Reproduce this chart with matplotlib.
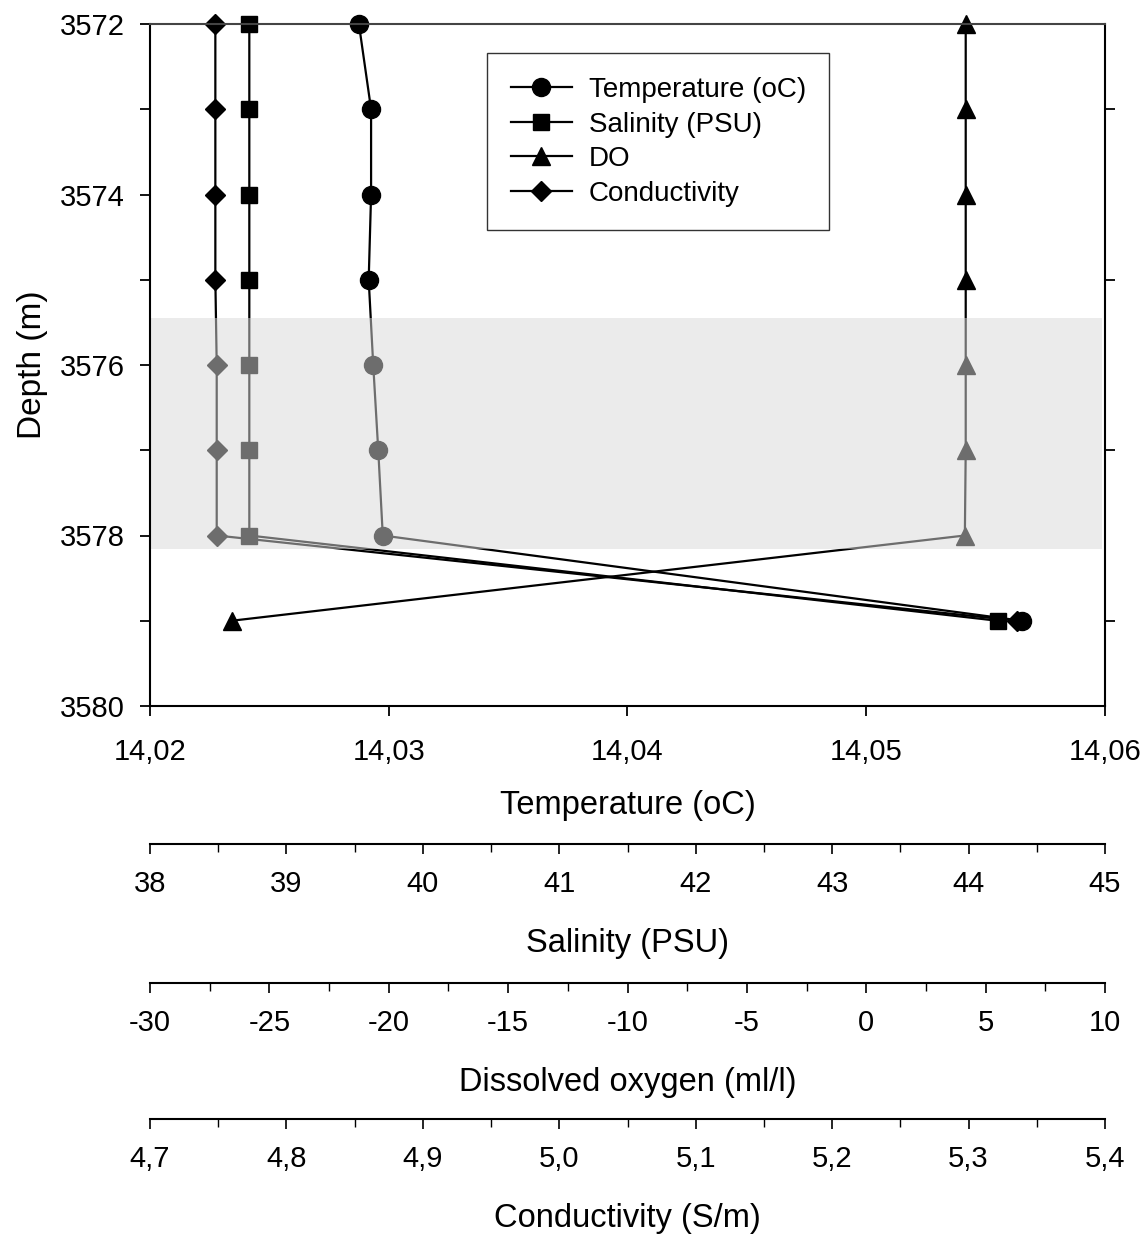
import numpy as np
import matplotlib
matplotlib.use("Agg")
import matplotlib.pyplot as plt
from matplotlib.ticker import MultipleLocator, FuncFormatter

plt.rcParams["font.family"] = ["Liberation Sans", "DejaVu Sans"]

# depth profile values
depth = [3572, 3573, 3574, 3575, 3576, 3577, 3578, 3579]
temperature = [14.02875, 14.02926, 14.02926, 14.02916, 14.02935, 14.02956, 14.02975, 14.05651]
salinity = [38.728, 38.728, 38.728, 38.728, 38.728, 38.728, 38.728, 44.213]
dissolved_oxygen = [4.166, 4.166, 4.166, 4.166, 4.166, 4.166, 4.13, -26.58]
conductivity = [4.7479, 4.7479, 4.7479, 4.7479, 4.7489, 4.7489, 4.7489, 5.3355]

band = (3575.45, 3578.16)

comma = FuncFormatter(lambda v, p: ("%g" % round(v, 6)).replace(".", ","))
comma1 = FuncFormatter(lambda v, p: ("%.1f" % v).replace(".", ","))
comma2 = FuncFormatter(lambda v, p: ("%.2f" % v).replace(".", ","))

TICK = 21
LABEL = 23.5

fig = plt.figure(figsize=(11.47, 12.4), dpi=100)
L, W = 150 / 1147, 955 / 1147
ax = fig.add_axes([L, 1 - 706 / 1240, W, 682 / 1240])

kw = dict(color="black", lw=1.6, clip_on=False)
# other quantities on their own x scales, sharing the depth axis
ax_c = ax.twiny()
ax_s = ax.twiny()
ax_d = ax.twiny()
for tw, lim in ((ax_s, (38, 45)), (ax_d, (-30, 10)), (ax_c, (4.7, 5.4))):
    tw.set_xlim(*lim)
    tw.axis("off")
    tw.set_zorder(1)

lc, = ax_c.plot(conductivity, depth, marker="D", ms=10.5, label="Conductivity", **kw)
ls, = ax_s.plot(salinity, depth, marker="s", ms=11, label="Salinity (PSU)", **kw)
ld, = ax_d.plot(dissolved_oxygen, depth, marker="^", ms=12.5, label="DO", **kw)

ax.set_zorder(2)
ax.patch.set_visible(False)
lt, = ax.plot(temperature, depth, marker="o", ms=13, label="Temperature (oC)", **kw)

# shaded layer greys out everything under it
ax.axhspan(band[0], band[1], xmin=0, xmax=0.997, color="#d9d9d9", alpha=0.506, lw=0, zorder=2.4)

ax.set_xlim(14.02, 14.06)
ax.set_ylim(3580, 3572)
ax.xaxis.set_major_locator(MultipleLocator(0.01))
ax.xaxis.set_major_formatter(comma2)
ax.yaxis.set_major_locator(MultipleLocator(2))
ax.yaxis.set_minor_locator(MultipleLocator(1))
ax.tick_params(axis="x", which="major", direction="out", length=7, width=1.3, labelsize=TICK, pad=16)
ax.tick_params(axis="y", which="major", direction="out", length=7, width=1.3, labelsize=TICK, pad=11, right=False)
ax.tick_params(axis="y", which="minor", direction="out", length=7, width=1.3, left=True, right=True)
for s in ax.spines.values():
    s.set_linewidth(1.5)
    s.set_zorder(3)
ax.spines["top"].set_color("#444444")
ax.set_xlabel("Temperature (oC)", fontsize=LABEL, labelpad=17)
ax.set_ylabel("Depth (m)", fontsize=24, labelpad=9)

leg = ax.legend(handles=[lt, ls, ld, lc], loc="upper left", bbox_to_anchor=(0.353, 0.957),
                borderaxespad=0, fontsize=20, frameon=True, fancybox=False, edgecolor="black",
                handlelength=2.2, handletextpad=0.6, labelspacing=0.31, borderpad=0.85)
leg.get_frame().set_linewidth(1.0)
leg.set_zorder(10)

# stacked extra scales under the plot
extra = [
    (844, (38, 45), 1, 0.5, comma, "Salinity (PSU)"),
    (983, (-30, 10), 5, 2.5, comma, "Dissolved oxygen (ml/l)"),
    (1119, (4.7, 5.4), 0.1, 0.05, comma1, "Conductivity (S/m)"),
]
for ypix, lim, maj, mnr, fmt, label in extra:
    a = fig.add_axes([L, 1 - ypix / 1240, W, 0.0001])
    a.patch.set_visible(False)
    for side in ("left", "right", "top"):
        a.spines[side].set_visible(False)
    a.spines["bottom"].set_linewidth(1.5)
    a.set_yticks([])
    a.set_xlim(*lim)
    a.xaxis.set_major_locator(MultipleLocator(maj))
    a.xaxis.set_minor_locator(MultipleLocator(mnr))
    a.xaxis.set_major_formatter(fmt)
    a.tick_params(axis="x", which="major", direction="out", length=7, width=1.2, labelsize=TICK, pad=12)
    a.tick_params(axis="x", which="minor", direction="out", length=6, width=1.0)
    a.set_xlabel(label, fontsize=LABEL, labelpad=21)

fig.savefig("out.png", dpi=100, facecolor="white")
